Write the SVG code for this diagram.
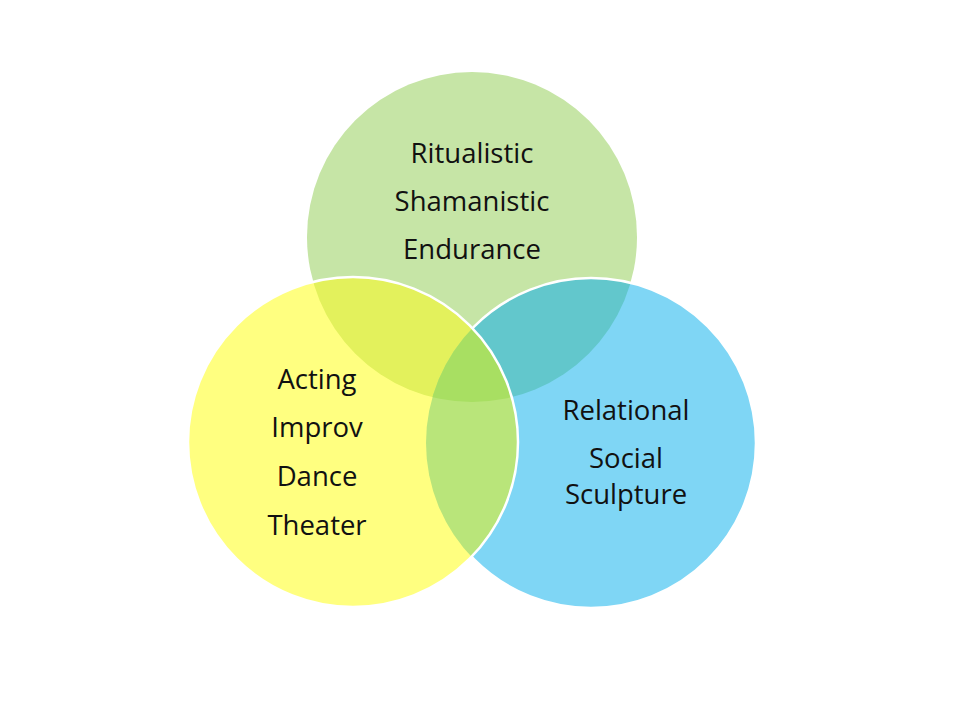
<svg xmlns="http://www.w3.org/2000/svg" width="960" height="720" viewBox="0 0 960 720">
  <style>
    .lbl { font-family: "Open Sans", "Liberation Sans", sans-serif; font-size: 27.5px; fill: #111; text-anchor: middle; }
  </style>
  <defs>
    <clipPath id="cG"><circle cx="472" cy="237" r="165"/></clipPath>
    <clipPath id="cY"><circle cx="353" cy="442" r="165"/></clipPath>
    <clipPath id="cB"><circle cx="591" cy="443" r="165"/></clipPath>
    <mask id="notY">
      <rect x="0" y="0" width="960" height="720" fill="#fff"/>
      <circle cx="353" cy="442" r="165" fill="#000"/>
    </mask>
  </defs>
  <rect width="960" height="720" fill="#fff"/>

  <g id="circle-green">
    <circle cx="472" cy="237" r="165" fill="#c6e5a6"/>
  </g>
  <g id="circle-blue">
    <circle cx="591" cy="443" r="165" fill="#7fd6f5"/>
  </g>
  <g id="circle-yellow">
    <circle cx="353" cy="442" r="165" fill="#ffff80"/>
  </g>

  <g id="overlaps">
    <circle cx="591" cy="443" r="165" fill="#62c7cc" clip-path="url(#cG)"/>
    <circle cx="353" cy="442" r="165" fill="#e3f15c" clip-path="url(#cG)"/>
    <g clip-path="url(#cB)">
      <circle cx="353" cy="442" r="165" fill="#b9e57a"/>
      <circle cx="472" cy="237" r="165" fill="#a8df62" clip-path="url(#cY)"/>
    </g>
  </g>

  <g id="outlines" fill="none" stroke="#fff" stroke-width="2.5">
    <circle cx="591" cy="443" r="165" mask="url(#notY)"/>
    <circle cx="353" cy="442" r="165"/>
  </g>

  <g id="label-green">
    <text class="lbl" x="472" y="163">Ritualistic</text>
    <text class="lbl" x="472" y="211">Shamanistic</text>
    <text class="lbl" x="472" y="259">Endurance</text>
  </g>
  <g id="label-yellow">
    <text class="lbl" x="317" y="389">Acting</text>
    <text class="lbl" x="317" y="437">Improv</text>
    <text class="lbl" x="317" y="486">Dance</text>
    <text class="lbl" x="317" y="535">Theater</text>
  </g>
  <g id="label-blue">
    <text class="lbl" x="626" y="420">Relational</text>
    <text class="lbl" x="626" y="468">Social</text>
    <text class="lbl" x="626" y="504">Sculpture</text>
  </g>
</svg>
